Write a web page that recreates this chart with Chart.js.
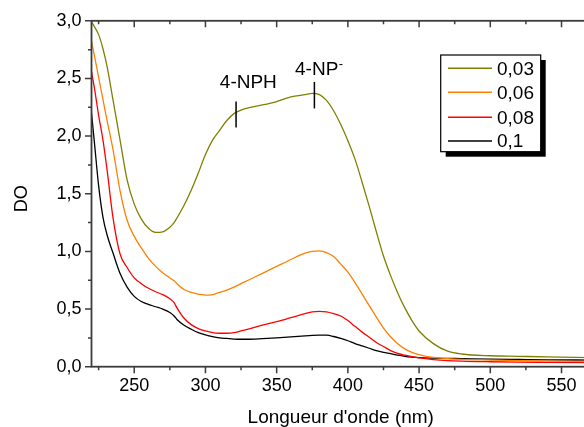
<!DOCTYPE html>
<html>
<head>
<meta charset="UTF-8">
<script src="https://cdn.jsdelivr.net/npm/chart.js@4"></script>
<style>
html, body { margin: 0; padding: 0; background: #fff; overflow: hidden; }
#wrap { position: relative; width: 600px; height: 427px; }
</style>
</head>
<body>
<div id="wrap"><canvas id="c"></canvas></div>
<script>
// longueurs d'onde (nm) communes aux 4 spectres
const wavelengths = [220,222,225,228,231,235,240,245,250,255,
  260,265,270,275,278,280,285,290,295,300,
  305,310,315,320,325,330,340,350,360,370,
  375,380,385,390,395,400,405,410,415,420,
  425,430,435,440,445,450,460,470,480,500,
  520,540,570];

const do003 = [2.99,2.95,2.88,2.76,2.60,2.32,1.97,1.62,1.41,1.28,
  1.20,1.165,1.17,1.21,1.25,1.29,1.40,1.53,1.68,1.84,
  1.965,2.05,2.135,2.195,2.225,2.245,2.27,2.30,2.34,2.36,
  2.37,2.36,2.31,2.22,2.10,1.96,1.80,1.60,1.39,1.17,
  0.96,0.79,0.64,0.51,0.40,0.31,0.20,0.135,0.11,0.095,
  0.09,0.085,0.078];

const do006 = [2.82,2.70,2.51,2.32,2.13,1.89,1.53,1.27,1.13,1.03,
  0.94,0.87,0.815,0.77,0.745,0.72,0.67,0.645,0.63,0.62,
  0.625,0.645,0.665,0.69,0.72,0.75,0.81,0.87,0.93,0.985,
  1.00,1.005,0.99,0.955,0.89,0.82,0.73,0.63,0.53,0.43,
  0.335,0.26,0.20,0.155,0.125,0.105,0.08,0.07,0.063,0.057,
  0.052,0.049,0.045];

const do008 = [2.56,2.42,2.18,1.97,1.70,1.30,0.98,0.86,0.77,0.72,
  0.68,0.65,0.625,0.59,0.555,0.51,0.42,0.365,0.33,0.31,
  0.295,0.29,0.29,0.295,0.31,0.325,0.36,0.39,0.425,0.46,
  0.475,0.48,0.475,0.46,0.44,0.40,0.35,0.30,0.255,0.21,
  0.175,0.14,0.115,0.10,0.087,0.076,0.062,0.053,0.048,0.043,
  0.04,0.038,0.035];

const do01 = [2.20,1.95,1.57,1.30,1.14,0.99,0.81,0.69,0.61,0.565,
  0.54,0.52,0.50,0.47,0.44,0.41,0.36,0.325,0.295,0.275,
  0.26,0.25,0.245,0.24,0.238,0.238,0.243,0.25,0.258,0.268,
  0.272,0.274,0.273,0.262,0.245,0.225,0.20,0.18,0.16,0.14,
  0.125,0.113,0.10,0.09,0.083,0.078,0.074,0.072,0.07,0.066,
  0.063,0.06,0.057];

const seriesLabels = ['0,03', '0,06', '0,08', '0,1'];
const seriesValues = [do003, do006, do008, do01];
const seriesColors = ['#808000', '#ff8000', '#ff0000', '#000000'];

const xMajor = [250, 300, 350, 400, 450, 500, 550];
const xMinor = [225, 275, 325, 375, 425, 475, 525];
const yMajor = [0, 0.5, 1, 1.5, 2, 2.5, 3];
const yMinor = [0.25, 0.75, 1.25, 1.75, 2.25, 2.75];

// reperes des bandes : x en nm, y en DO
const peakMarks = [
  { text: '4-NPH', sup: '', x: 321.5, y0: 2.075, y1: 2.30, tx: 330.1, ty: 2.414 },
  { text: '4-NP', sup: '-', x: 376.5, y0: 2.24, y1: 2.47, tx: 378.1, ty: 2.529 }
];

const FONT = '"Liberation Sans", Arial, sans-serif';
const AXIS = '#3c3c3c';

const framePlugin = {
  id: 'frame',
  afterDatasetsDraw(chart) {
    const { ctx, chartArea: a, scales: { x, y } } = chart;
    ctx.save();
    ctx.strokeStyle = AXIS;
    ctx.lineWidth = 1.8;
    ctx.strokeRect(a.left, a.top, a.right - a.left, a.bottom - a.top);
    ctx.lineWidth = 1.5;
    ctx.beginPath();
    xMajor.forEach(v => {
      const p = x.getPixelForValue(v);
      ctx.moveTo(p, a.bottom); ctx.lineTo(p, a.bottom + 6.5);
      ctx.moveTo(p, a.top); ctx.lineTo(p, a.top + 6.5);
    });
    xMinor.forEach(v => {
      const p = x.getPixelForValue(v);
      ctx.moveTo(p, a.bottom); ctx.lineTo(p, a.bottom + 3.5);
      ctx.moveTo(p, a.top); ctx.lineTo(p, a.top + 3.5);
    });
    yMajor.forEach(v => {
      const p = y.getPixelForValue(v);
      ctx.moveTo(a.left, p); ctx.lineTo(a.left - 6.5, p);
    });
    yMinor.forEach(v => {
      const p = y.getPixelForValue(v);
      ctx.moveTo(a.left, p); ctx.lineTo(a.left - 3.5, p);
    });
    ctx.stroke();

    // titres des axes
    ctx.fillStyle = '#000';
    ctx.font = '19px ' + FONT;
    ctx.textAlign = 'center';
    ctx.textBaseline = 'alphabetic';
    ctx.fillText("Longueur d'onde (nm)", (a.left + a.right) / 2, 423);
    ctx.save();
    ctx.translate(27, (a.top + a.bottom) / 2 + 5);
    ctx.rotate(-Math.PI / 2);
    ctx.font = '18px ' + FONT;
    ctx.fillText('DO', 0, 0);
    ctx.restore();

    // reperes 4-NPH / 4-NP-
    ctx.lineWidth = 1.5;
    ctx.strokeStyle = '#000';
    peakMarks.forEach(m => {
      const px = x.getPixelForValue(m.x);
      ctx.beginPath();
      ctx.moveTo(px, y.getPixelForValue(m.y0));
      ctx.lineTo(px, y.getPixelForValue(m.y1));
      ctx.stroke();
      ctx.font = '19px ' + FONT;
      ctx.textAlign = 'center';
      const tx = x.getPixelForValue(m.tx), ty = y.getPixelForValue(m.ty);
      ctx.fillText(m.text, tx, ty);
      if (m.sup) {
        const w = ctx.measureText(m.text).width;
        ctx.font = '13px ' + FONT;
        ctx.textAlign = 'left';
        ctx.fillText(m.sup, tx + w / 2 + 0.5, ty - 7);
      }
    });

    // legende avec ombre
    const lx = 440.7, ly = 55, lw = 100, lh = 96.7;
    ctx.fillStyle = '#000';
    ctx.fillRect(lx + 5, ly + 5, lw, lh);
    ctx.fillStyle = '#fff';
    ctx.fillRect(lx, ly, lw, lh);
    ctx.strokeStyle = '#000';
    ctx.lineWidth = 1.2;
    ctx.strokeRect(lx, ly, lw, lh);
    const rows = [68.3, 92.3, 117.3, 141];
    ctx.font = '19px ' + FONT;
    ctx.textAlign = 'left';
    ctx.textBaseline = 'middle';
    chart.data.datasets.forEach((ds, i) => {
      ctx.strokeStyle = ds.borderColor;
      ctx.lineWidth = 1.4;
      ctx.beginPath();
      ctx.moveTo(448, rows[i]); ctx.lineTo(492, rows[i]);
      ctx.stroke();
      ctx.fillStyle = '#000';
      ctx.fillText(ds.label, 497, rows[i] + 1);
    });
    ctx.restore();
  }
};

new Chart(document.getElementById('c'), {
  type: 'line',
  data: {
    datasets: seriesLabels.map((lab, i) => ({
      label: lab,
      data: wavelengths.map((w, j) => ({ x: w, y: seriesValues[i][j] })),
      borderColor: seriesColors[i],
      borderWidth: 1.3,
      pointRadius: 0,
      cubicInterpolationMode: 'monotone',
      fill: false
    }))
  },
  options: {
    responsive: true,
    maintainAspectRatio: false,
    animation: false,
    events: [],
    layout: { padding: { left: 0, top: 18.7, right: 10, bottom: 0 } },
    plugins: { legend: { display: false }, tooltip: { enabled: false } },
    scales: {
      x: {
        type: 'linear', min: 220, max: 570,
        grid: { display: false, drawTicks: false },
        border: { display: false },
        afterBuildTicks: s => { s.ticks = xMajor.map(v => ({ value: v })); },
        afterFit: s => { s.height = 60.3; },
        ticks: { color: '#000', font: { family: FONT, size: 18 }, padding: 9, maxRotation: 0 }
      },
      y: {
        type: 'linear', min: 0, max: 3,
        grid: { display: false, drawTicks: false },
        border: { display: false },
        afterBuildTicks: s => { s.ticks = yMajor.map(v => ({ value: v })); },
        afterFit: s => { s.width = 91.5; },
        ticks: {
          color: '#000', font: { family: FONT, size: 18 }, padding: 10,
          callback: v => v.toFixed(1).replace('.', ',')
        }
      }
    }
  },
  plugins: [framePlugin]
});
</script>
</body>
</html>
